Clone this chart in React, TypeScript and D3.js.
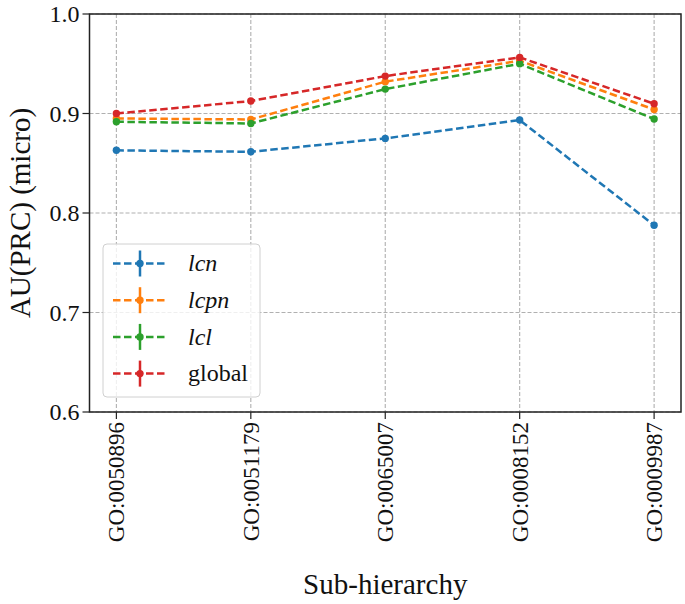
import React from 'react'
import { scaleLinear, scalePoint, line } from 'd3'

const categories = ['GO:0050896', 'GO:0051179', 'GO:0065007', 'GO:0008152', 'GO:0009987']
const lcn = [0.863, 0.8615, 0.875, 0.8934, 0.7877]
const lcpn = [0.895, 0.894, 0.932, 0.953, 0.904]
const lcl = [0.8917, 0.890, 0.9245, 0.950, 0.8944]
const globalScores = [0.900, 0.9125, 0.9376, 0.9564, 0.9098]
const yTicks = [0.6, 0.7, 0.8, 0.9, 1.0]

const series = [
  { name: 'lcn', italic: true, color: '#1f77b4', values: lcn },
  { name: 'lcpn', italic: true, color: '#ff7f0e', values: lcpn },
  { name: 'lcl', italic: true, color: '#2ca02c', values: lcl },
  { name: 'global', italic: false, color: '#d62728', values: globalScores },
]

const W = 685, H = 604
const margin = { top: 14, right: 4, bottom: 192, left: 89.5 }
const FONT = '"Liberation Serif", "DejaVu Serif", serif'

export default function App() {
  const x = scalePoint<string>()
    .domain(categories)
    .range([margin.left, W - margin.right])
    .padding(0.2)
  const y = scaleLinear().domain([0.6, 1.0]).range([H - margin.bottom, margin.top])

  const gen = line<number>()
    .x((_, i) => x(categories[i]) ?? 0)
    .y((d) => y(d))

  const bottom = H - margin.bottom
  const legendX = 103, legendY = 244

  return (
    <svg width={W} height={H} style={{ position: 'absolute', left: 0, top: 0, background: '#fff' }}>
      {/* grid */}
      {yTicks.map((t) => (
        <line key={'gy' + t} x1={margin.left} x2={W - margin.right} y1={y(t)} y2={y(t)}
          stroke="#b0b0b0" strokeWidth={1.1} strokeDasharray="4,2" />
      ))}
      {categories.map((c) => (
        <line key={'gx' + c} x1={x(c)} x2={x(c)} y1={margin.top} y2={bottom}
          stroke="#b0b0b0" strokeWidth={1.1} strokeDasharray="4,2" />
      ))}

      {/* series */}
      {series.map((s) => (
        <g key={s.name}>
          <path d={gen(s.values) ?? ''} fill="none" stroke={s.color} strokeWidth={2.5}
            strokeDasharray="7.5,3.5" />
          {s.values.map((v, i) => (
            <circle key={i} cx={x(categories[i])} cy={y(v)} r={3.7} fill={s.color} />
          ))}
        </g>
      ))}

      {/* frame */}
      <rect x={margin.left} y={margin.top} width={W - margin.right - margin.left}
        height={bottom - margin.top} fill="none" stroke="#222" strokeWidth={1.5} />

      {/* y axis */}
      {yTicks.map((t) => (
        <g key={'yt' + t}>
          <line x1={margin.left - 7} x2={margin.left} y1={y(t)} y2={y(t)} stroke="#222" strokeWidth={1.2} />
          <text x={margin.left - 10} y={y(t)} dy="0.35em" textAnchor="end"
            fontFamily={FONT} fontSize={24} fill="#111">{t.toFixed(1)}</text>
        </g>
      ))}
      <text transform={`translate(30,${(margin.top + bottom) / 2}) rotate(-90)`} textAnchor="middle"
        fontFamily={FONT} fontSize={29} fill="#111">AU(PRC) (micro)</text>

      {/* x axis */}
      {categories.map((c) => (
        <g key={'xt' + c}>
          <line x1={x(c)} x2={x(c)} y1={bottom} y2={bottom + 7} stroke="#222" strokeWidth={1.2} />
          <text transform={`translate(${x(c)},${bottom + 10}) rotate(-90)`} dy="0.35em" textAnchor="end"
            fontFamily={FONT} fontSize={23} fill="#111">{c}</text>
        </g>
      ))}
      <text x={(margin.left + W - margin.right) / 2} y={594} textAnchor="middle"
        fontFamily={FONT} fontSize={29} fill="#111">Sub-hierarchy</text>

      {/* legend */}
      <rect x={legendX} y={legendY} width={157} height={153} rx={4} fill="#fff" fillOpacity={0.8}
        stroke="#d0d0d0" strokeWidth={1} />
      {series.map((s, i) => {
        const cy = 263.5 + i * 36.7
        return (
          <g key={'lg' + s.name}>
            <line x1={113} x2={166} y1={cy} y2={cy} stroke={s.color} strokeWidth={2.5} strokeDasharray="7.5,3.5" />
            <line x1={140} x2={140} y1={cy - 13} y2={cy + 13} stroke={s.color} strokeWidth={2.5} />
            <circle cx={140} cy={cy} r={3.7} fill={s.color} />
            <text x={188} y={cy} dy="0.32em" fontFamily={FONT} fontSize={24}
              fontStyle={s.italic ? 'italic' : 'normal'} fill="#111">{s.name}</text>
          </g>
        )
      })}
    </svg>
  )
}
